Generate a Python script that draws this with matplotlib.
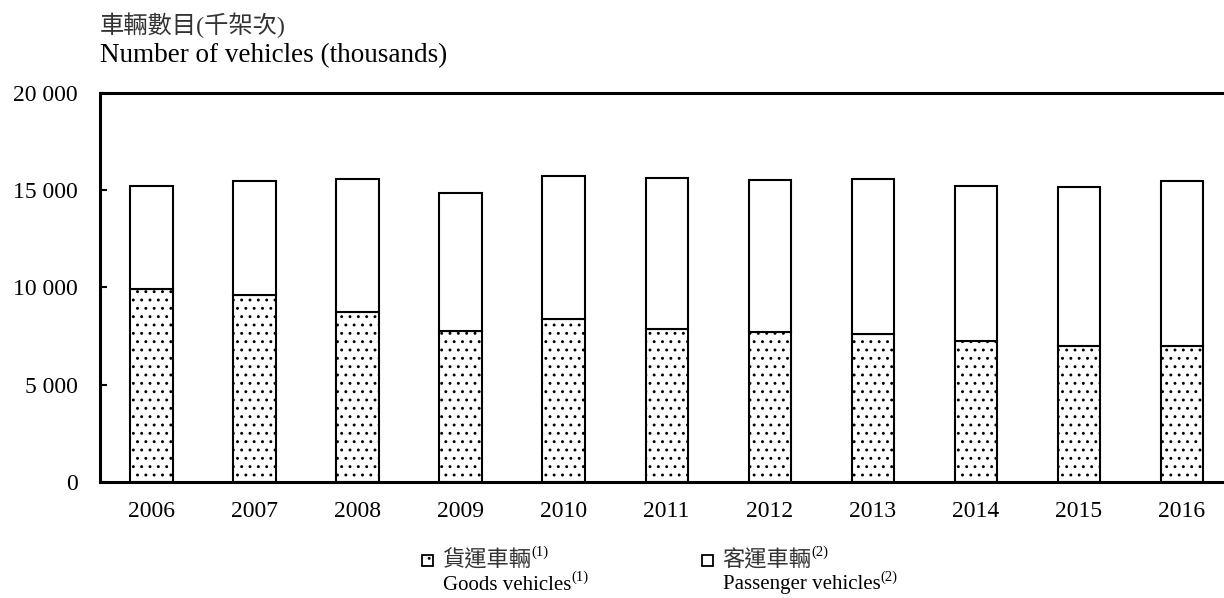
import matplotlib.pyplot as plt
from matplotlib.patches import Rectangle

plt.rcParams['font.family'] = ['Liberation Serif', 'Noto Sans CJK TC']
plt.rcParams['hatch.linewidth'] = 0.9

# values (thousands)
years = ['2006', '2007', '2008', '2009', '2010', '2011',
         '2012', '2013', '2014', '2015', '2016']
goods = [9900, 9600, 8740, 7770, 8350, 7870, 7690, 7580, 7250, 6980, 7000]
totals = [15210, 15470, 15590, 14870, 15730, 15610, 15540, 15560, 15200, 15140, 15470]
passenger = [t - g for t, g in zip(totals, goods)]

yticks = [0, 5000, 10000, 15000, 20000]
ytick_labels = ['0', '5 000', '10 000', '15 000', '20 000']

fig = plt.figure(figsize=(12.24, 5.98), dpi=100)
ax = fig.add_axes([100 / 1224, 1 - 481.7 / 598, 1 - 100 / 1224, (481.7 - 93) / 598])

x = list(range(len(years)))
ax.bar(x, goods, width=0.41, color='white', edgecolor='black', linewidth=1.5, hatch='..')
ax.bar(x, passenger, bottom=goods, width=0.41, color='white', edgecolor='black', linewidth=1.5)

ax.set_xlim(-0.5, 10.41)
ax.set_ylim(0, 20000)
ax.set_xticks(x)
ax.set_xticklabels(years, fontsize=17)
ax.set_yticks(yticks)
ax.set_yticklabels(ytick_labels, fontsize=17)
ax.tick_params(axis='x', length=0, pad=14)
ax.tick_params(axis='y', direction='in', length=5, width=1.5, pad=16)
ax.spines['right'].set_visible(False)
for s in ['left', 'top', 'bottom']:
    ax.spines[s].set_linewidth(2.2)

# axis titles
fig.text(100 / 1224, 1 - 25 / 598, '車輛數目(千架次)', fontsize=17.5, va='center', ha='left', color='#333333')
fig.text(100 / 1224, 1 - 56 / 598, 'Number of vehicles (thousands)', fontsize=19.5, va='center', ha='left')

# legend drawn by hand
items = [(422, '..', ('貨運車輛', '(1)'), ('Goods vehicles', '(1)')),
         (702, None, ('客運車輛', '(2)'), ('Passenger vehicles', '(2)'))]
for x0, h, zh, en in items:
    fig.patches.append(Rectangle((x0 / 1224, 1 - 566 / 598), 11 / 1224, 11 / 598,
                                 transform=fig.transFigure, facecolor='white',
                                 edgecolor='black', linewidth=1.3, hatch=h))
    t1 = fig.text((x0 + 20) / 1224, 1 - 561 / 598, zh[0], fontsize=16, va='center', ha='left', color='#333333')
    ax.annotate(zh[1], xy=(1, 0.6), xycoords=t1, fontsize=10.5, va='bottom', ha='left',
                annotation_clip=False)
    t2 = fig.text((x0 + 21) / 1224, 1 - 585 / 598, en[0], fontsize=15, va='center', ha='left')
    ax.annotate(en[1], xy=(1, 0.55), xycoords=t2, fontsize=10.5, va='bottom', ha='left',
                annotation_clip=False)

fig.savefig('out.png', dpi=100)
